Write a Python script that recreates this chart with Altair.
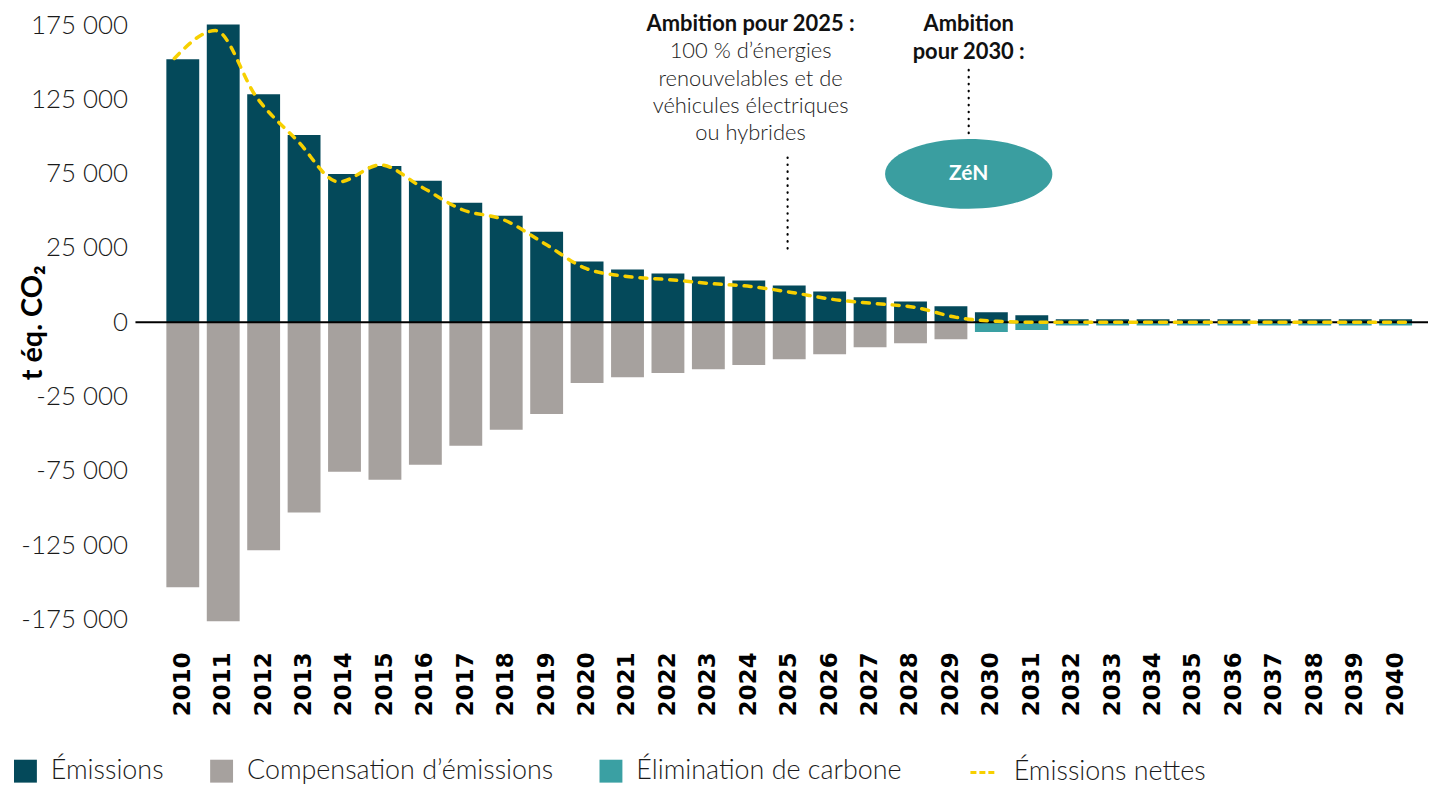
import altair as alt
import pandas as pd

# ---------------- data ----------------
years = [str(y) for y in range(2010, 2041)]
emissions = [155000, 175400, 134300, 110300, 87400, 92100, 83300, 70400, 62800, 53400,
             35800, 31100, 28700, 27000, 24600, 21700, 18200, 14700, 12300, 9400,
             5900, 4100, 1800, 1800, 1800, 1800, 1800, 1800, 1800, 1800, 1800]
compensation = [-156000, -176000, -134300, -112000, -88000, -92700, -83900, -72700, -63300, -54000,
                 -35800, -32300, -29900, -27600, -25200, -21700, -18800, -14700, -12300, -9900,
                 0, 0, 0, 0, 0, 0, 0, 0, 0, 0, 0]
removal = [0, 0, 0, 0, 0, 0, 0, 0, 0, 0,
           0, 0, 0, 0, 0, 0, 0, 0, 0, 0,
           -5700, -4500, -1900, -1900, -1900, -1900, -1900, -1900, -1900, -1900, -1900]
net = [155400, 171800, 132500, 106700, 82700, 92700, 79800, 66300, 60400, 46300,
       31700, 27000, 25200, 22900, 21100, 17600, 13500, 11100, 8800, 2900,
       600, 0, 0, 0, 0, 0, 0, 0, 0, 0, 0]

cat_names = ["Émissions", "Compensation d’émissions", "Élimination de carbone"]
cat_colors = ["#04495a", "#a6a19e", "#3aa0a3"]
net_name = "Émissions nettes"
net_color = "#f7d000"

tick_values = [175000, 131250, 87500, 43750, 0, -43750, -87500, -131250, -175000]
tick_labels = ["175 000", "125 000", "75 000", "25 000", "0",
               "-25 000", "-75 000", "-125 000", "-175 000"]

# annotations
bold_text = ["Ambition pour 2025 :", "Ambition", "pour 2030 :"]
bold_x = [2024.0, 2029.3, 2029.3]
bold_y = [175900, 175900, 159300]
light_text = ["100 % d’énergies", "renouvelables et de", "véhicules électriques", "ou hybrides"]
light_x = [2024.0, 2024.0, 2024.0, 2024.0]
light_y = [159500, 143100, 127300, 111400]
dot_x = [2024.9, 2029.3]
dot_y = [43400, 111400]
dot_y2 = [99100, 149600]
badge_x = [2029.3]
badge_y = [87400]
badge_text = ["ZéN"]

# ---------------- tables ----------------
rows = []
for i, yr in enumerate(years):
    for name, series in zip(cat_names, [emissions, compensation, removal]):
        if series[i] != 0:
            rows.append({"year": yr, "cat": name, "value": series[i]})
bars_df = pd.DataFrame(rows)
line_df = pd.DataFrame({"yr": [int(y) for y in years], "net": net, "serie": [net_name] * len(years)})
bold_df = pd.DataFrame({"x": bold_x, "y": bold_y, "t": bold_text})
light_df = pd.DataFrame({"x": light_x, "y": light_y, "t": light_text})
dot_df = pd.DataFrame({"x": dot_x, "y": dot_y, "y2": dot_y2})
badge_df = pd.DataFrame({"x": badge_x, "y": badge_y, "t": badge_text})
zero_df = pd.DataFrame({"z": [0]})

label_expr = " : ".join(f"datum.value == {v} ? '{l}'" for v, l in zip(tick_values, tick_labels)) + " : ''"

yscale = alt.Scale(domain=[-180630, 180630], nice=False, zero=False)
xq = alt.Scale(domain=[2009.056, 2040.459], nice=False, zero=False)

FONT = "Lato"

bars = alt.Chart(bars_df).mark_bar().encode(
    x=alt.X("year:O", sort=years,
            scale=alt.Scale(paddingInner=0.187, paddingOuter=0.579, align=0.66),
            axis=alt.Axis(title=None, labelAngle=270, labelAlign="right", labelBaseline="middle",
                          labelFont="DejaVu Sans", labelFontWeight="bold", labelFontSize=23,
                          labelColor="#000000", labelPadding=23, ticks=False, tickSize=0,
                          domain=False, grid=False)),
    y=alt.Y("value:Q", stack=None, scale=yscale,
            axis=alt.Axis(values=tick_values, labelExpr=label_expr, title="t éq. CO₂",
                          labelFont=FONT, labelFontWeight=300, labelFontSize=26,
                          labelColor="#1a1a1a", labelPadding=8, ticks=False, tickSize=0,
                          domain=False, grid=False,
                          titleFont=FONT, titleFontWeight="bold", titleFontSize=29,
                          titleColor="#000000", titleAngle=270, titleX=-94, titleY=308,
                          titleAlign="center", titleBaseline="alphabetic")),
    fill=alt.Fill("cat:N", scale=alt.Scale(domain=cat_names, range=cat_colors),
                  legend=alt.Legend(title=None, orient="none", legendX=-124, legendY=745,
                                    direction="horizontal", symbolType="square", symbolSize=529,
                                    symbolStrokeWidth=0, labelFont=FONT, labelFontWeight=300,
                                    labelFontSize=27, labelColor="#1a1a1a", labelOffset=12,
                                    columnPadding=44, labelLimit=0)),
)

zero_rule = alt.Chart(zero_df).mark_rule(color="#000000", strokeWidth=2).encode(
    y=alt.Y("z:Q", scale=yscale)
)

line = alt.Chart(line_df).mark_line(strokeWidth=3.5, strokeDash=[7, 8], strokeCap="round",
                                    interpolate="monotone").encode(
    x=alt.X("yr:Q", scale=xq, axis=None),
    y=alt.Y("net:Q", scale=yscale),
    stroke=alt.Stroke("serie:N", scale=alt.Scale(domain=[net_name], range=[net_color]),
                      legend=alt.Legend(title=None, orient="none", legendX=837, legendY=745,
                                        symbolType="stroke", symbolSize=729, symbolStrokeWidth=3,
                                        symbolDash=[6, 3], labelFont=FONT, labelFontWeight=300,
                                        labelFontSize=27, labelColor="#1a1a1a", labelOffset=15,
                                        labelLimit=0)),
)

dots = alt.Chart(dot_df).mark_rule(color="#000000", strokeWidth=2.2, strokeDash=[0.5, 6.5],
                                   strokeCap="round").encode(
    x=alt.X("x:Q", scale=xq, axis=None),
    y=alt.Y("y:Q", scale=yscale),
    y2="y2:Q",
)

ellipse_path = "M -1 0 A 1 0.4167 0 1 0 1 0 A 1 0.4167 0 1 0 -1 0 Z"
badge = alt.Chart(badge_df).mark_point(shape=ellipse_path, size=28224, filled=True,
                                       color="#3a9ea0", opacity=1, strokeWidth=0).encode(
    x=alt.X("x:Q", scale=xq, axis=None),
    y=alt.Y("y:Q", scale=yscale),
)
badge_label = alt.Chart(badge_df).mark_text(font=FONT, fontWeight="bold", fontSize=21,
                                            color="#ffffff", baseline="middle", align="center").encode(
    x=alt.X("x:Q", scale=xq, axis=None),
    y=alt.Y("y:Q", scale=yscale),
    text="t:N",
)

ann_bold = alt.Chart(bold_df).mark_text(font=FONT, fontWeight="bold", fontSize=22,
                                        color="#111111", baseline="middle", align="center").encode(
    x=alt.X("x:Q", scale=xq, axis=None),
    y=alt.Y("y:Q", scale=yscale),
    text="t:N",
)
ann_light = alt.Chart(light_df).mark_text(font=FONT, fontWeight=300, fontSize=22,
                                          color="#222222", baseline="middle", align="center").encode(
    x=alt.X("x:Q", scale=xq, axis=None),
    y=alt.Y("y:Q", scale=yscale),
    text="t:N",
)

chart = alt.layer(
    bars, zero_rule, line, dots, badge, badge_label, ann_bold, ann_light
).resolve_scale(
    x="independent"
).properties(
    width=1298, height=616,
    autosize="none",
    padding={"left": 128, "top": 6, "right": 0, "bottom": 156},
    background="#ffffff",
).configure_view(stroke=None)

chart.save("out.html", embed_options={"renderer": "svg", "actions": False})
